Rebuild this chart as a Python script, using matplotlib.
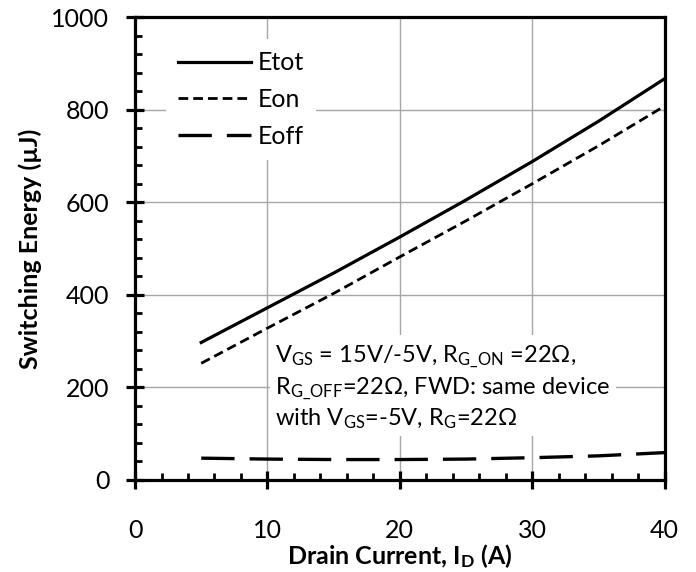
import numpy as np
import matplotlib.pyplot as plt
from matplotlib.ticker import MultipleLocator

plt.rcParams['font.family'] = ['Lato', 'DejaVu Sans']
plt.rcParams['mathtext.fontset'] = 'custom'
plt.rcParams['mathtext.rm'] = 'Lato'
plt.rcParams['mathtext.it'] = 'Lato:italic'
plt.rcParams['mathtext.bf'] = 'Lato:bold'

# data
current = [5, 10, 15, 20, 25, 30, 35, 40]
e_tot = [297, 372, 447, 525, 605, 688, 775, 867]
e_on = [252, 328, 403, 482, 560, 640, 722, 808]
e_off = [47, 45, 44, 44, 45, 48, 52, 59]

fig = plt.figure(figsize=(6.96, 5.72), dpi=100)
ax = fig.add_axes([0.194, 0.161, 0.761, 0.809])

ax.plot(current, e_tot, color="black", lw=2.3, label="Etot", zorder=3)
ax.plot(current, e_on, color="black", lw=2.0, dashes=(3.5, 1.8), label="Eon", zorder=3)
ax.plot(current, e_off, color="black", lw=2.4, dashes=(10, 4.5), label="Eoff", zorder=3)

ax.set_xlim(0, 40)
ax.set_ylim(0, 1000)
ax.xaxis.set_major_locator(MultipleLocator(10))
ax.xaxis.set_minor_locator(MultipleLocator(2))
ax.yaxis.set_major_locator(MultipleLocator(200))
ax.yaxis.set_minor_locator(MultipleLocator(40))
ax.grid(True, which="major", color="#a6a6a6", lw=1.0)

for s in ax.spines.values():
    s.set_linewidth(2.3)
ax.tick_params(which="major", direction="inout", length=13, width=2.3, labelsize=18)
ax.tick_params(axis="x", which="major", pad=22)
ax.tick_params(axis="y", which="major", pad=12)
ax.tick_params(which="minor", direction="in", length=5, width=2.0)

ax.set_xlabel("Drain Current, I$_\\mathregular{D}$ (A)", fontsize=18, fontweight="bold", labelpad=0)
ax.set_ylabel("Switching Energy (µJ)", fontsize=18, fontweight="bold", labelpad=7)

leg = ax.legend(loc="upper left", bbox_to_anchor=(0.058, 0.953), borderaxespad=0, fontsize=18,
                frameon=True, fancybox=False, handlelength=2.9, handletextpad=0.28,
                labelspacing=0.55, borderpad=0.5)
leg.get_frame().set_edgecolor("none")
leg.get_frame().set_facecolor("white")
leg.get_frame().set_alpha(1)

note = ("V$_\\mathregular{GS}$ = 15V/-5V, R$_\\mathregular{G\\_ON}$ =22Ω,\n"
        "R$_\\mathregular{G\\_OFF}$=22Ω, FWD: same device\n"
        "with V$_\\mathregular{GS}$=-5V, R$_\\mathregular{G}$=22Ω")
ax.text(10.6, 201, note, fontsize=17, va="center", ha="left", linespacing=1.25,
        bbox=dict(facecolor="white", edgecolor="none", pad=4), zorder=4)

fig.savefig("out.png", dpi=100)
